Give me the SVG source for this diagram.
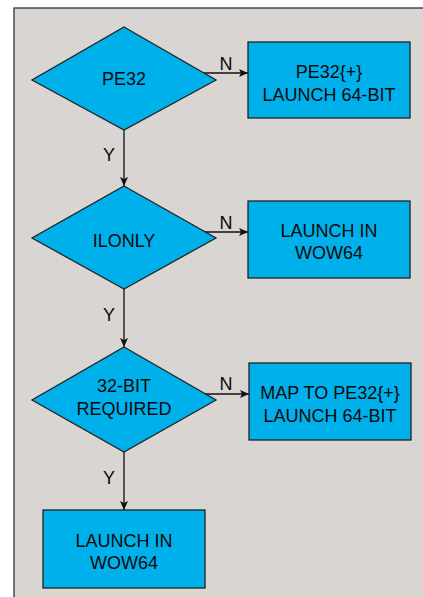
<svg xmlns="http://www.w3.org/2000/svg" width="423" height="597" viewBox="0 0 423 597">
<style>
.n{fill:#00b0eb;stroke:#222;stroke-width:1.3}
.t{font-family:"Liberation Sans",Arial,sans-serif;font-size:18px;fill:#0a0a0a;text-anchor:middle}
.l{font-family:"Liberation Sans",Arial,sans-serif;font-size:18px;fill:#0a0a0a;text-anchor:middle}
.c{stroke:#111;stroke-width:1.3;fill:none;marker-end:url(#a)}
</style>
<defs>
<marker id="a" markerWidth="10" markerHeight="8" refX="9" refY="4" orient="auto" markerUnits="userSpaceOnUse">
<path d="M0,0 L9,4 L0,8 L2,4 Z" fill="#111"/>
</marker>
</defs>
<rect x="0" y="0" width="423" height="597" fill="#fff"/>
<rect x="14" y="8" width="420" height="600" fill="#d9d5d2" stroke="#333" stroke-width="1.3"/>
<g id="connectors">
<line class="c" x1="204" y1="73" x2="248" y2="73"/>
<line class="c" x1="204" y1="232" x2="248" y2="232"/>
<line class="c" x1="204" y1="394" x2="249" y2="394"/>
<line class="c" x1="124" y1="130" x2="124" y2="186"/>
<line class="c" x1="124" y1="289" x2="124" y2="347"/>
<line class="c" x1="124" y1="452" x2="124" y2="510"/>
<text class="l" x="226" y="70">N</text>
<text class="l" x="226" y="229">N</text>
<text class="l" x="226" y="390">N</text>
<text class="l" x="109" y="161">Y</text>
<text class="l" x="109" y="321">Y</text>
<text class="l" x="109" y="484">Y</text>
</g>
<g id="pe32">
<polygon class="n" points="124,27 216,80 124,130 32,80"/>
<text class="t" x="124" y="85">PE32</text>
</g>
<g id="launch64a">
<rect class="n" x="248" y="42" width="162" height="76"/>
<text class="t" x="329" y="78">PE32{+}</text>
<text class="t" x="329" y="101">LAUNCH 64-BIT</text>
</g>
<g id="ilonly">
<polygon class="n" points="124,186 216,238 124,289 32,238"/>
<text class="t" x="124" y="247">ILONLY</text>
</g>
<g id="wow64a">
<rect class="n" x="248" y="201" width="162" height="77"/>
<text class="t" x="329" y="237">LAUNCH IN</text>
<text class="t" x="329" y="259">WOW64</text>
</g>
<g id="bit32">
<polygon class="n" points="124,347 216,400 124,452 32,400"/>
<text class="t" x="124" y="392">32-BIT</text>
<text class="t" x="124" y="415">REQUIRED</text>
</g>
<g id="map">
<rect class="n" x="249" y="363" width="162" height="77"/>
<text class="t" x="330" y="399">MAP TO PE32{+}</text>
<text class="t" x="330" y="422">LAUNCH 64-BIT</text>
</g>
<g id="wow64b">
<rect class="n" x="43" y="510" width="162" height="78"/>
<text class="t" x="124" y="547">LAUNCH IN</text>
<text class="t" x="124" y="569">WOW64</text>
</g>
</svg>
